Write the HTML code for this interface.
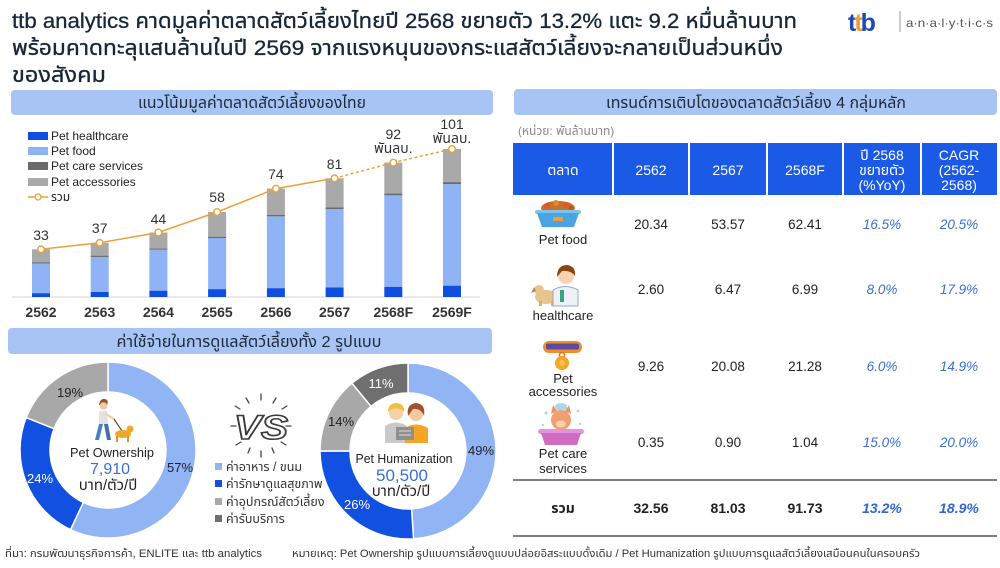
<!DOCTYPE html>
<html><head><meta charset="utf-8"><style>
html,body{margin:0;padding:0;background:#fff;width:1000px;height:568px;overflow:hidden}
svg{display:block}
</style></head><body>
<svg width="1000" height="568" viewBox="0 0 1000 568" xmlns="http://www.w3.org/2000/svg" font-family="'Liberation Sans','Noto Sans Thai','Noto Sans Thai UI','Loma','Garuda','Waree','Kinnari','Sarabun','DejaVu Sans',sans-serif">
<rect width="1000" height="568" fill="#fff"/>

<!-- Title -->
<g fill="#172638" font-size="21" stroke="#172638" stroke-width="0.3">
<text x="12" y="28" textLength="785" lengthAdjust="spacingAndGlyphs">ttb analytics คาดมูลค่าตลาดสัตว์เลี้ยงไทยปี 2568 ขยายตัว 13.2% แตะ 9.2 หมื่นล้านบาท</text>
<text x="12" y="55" textLength="771" lengthAdjust="spacingAndGlyphs">พร้อมคาดทะลุแสนล้านในปี 2569 จากแรงหนุนของกระแสสัตว์เลี้ยงจะกลายเป็นส่วนหนึ่ง</text>
<text x="12" y="82" textLength="94" lengthAdjust="spacingAndGlyphs">ของสังคม</text>
</g>

<!-- Logo -->
<text x="848" y="31" font-size="25" font-weight="bold" letter-spacing="-2"><tspan fill="#1b49b8">t</tspan><tspan fill="#f29a2e">t</tspan><tspan fill="#1b49b8">b</tspan></text>
<line x1="900" y1="11" x2="900" y2="32" stroke="#9a9a9a" stroke-width="1"/>
<text x="906" y="27" font-size="12" fill="#555" textLength="87" lengthAdjust="spacingAndGlyphs">a·n·a·l·y·t·i·c·s</text>

<!-- Section headers -->
<rect x="11" y="90" width="482" height="25" rx="4" fill="#a7c4f4"/>
<text x="252" y="108" font-size="16" fill="#1d2a3a" text-anchor="middle" textLength="228" lengthAdjust="spacingAndGlyphs">แนวโน้มมูลค่าตลาดสัตว์เลี้ยงของไทย</text>
<rect x="514" y="89" width="483" height="26" rx="4" fill="#a7c4f4"/>
<text x="756" y="108" font-size="16" fill="#1d2a3a" text-anchor="middle" textLength="300" lengthAdjust="spacingAndGlyphs">เทรนด์การเติบโตของตลาดสัตว์เลี้ยง 4 กลุ่มหลัก</text>
<rect x="8" y="328" width="484" height="26" rx="4" fill="#a7c4f4"/>
<text x="249" y="347" font-size="16" fill="#1d2a3a" text-anchor="middle" textLength="265" lengthAdjust="spacingAndGlyphs">ค่าใช้จ่ายในการดูแลสัตว์เลี้ยงทั้ง 2 รูปแบบ</text>

<!-- Bar chart legend -->
<g font-size="12" fill="#222">
<rect x="28" y="132" width="20" height="8" fill="#0f4fe0"/><text x="51" y="140">Pet healthcare</text>
<rect x="28" y="147" width="20" height="8" fill="#8fb3f4"/><text x="51" y="155">Pet food</text>
<rect x="28" y="162" width="20" height="8" fill="#6b6b6b"/><text x="51" y="170">Pet care services</text>
<rect x="28" y="178" width="20" height="8" fill="#a9a9a9"/><text x="51" y="186">Pet accessories</text>
<line x1="28" y1="197" x2="48" y2="197" stroke="#e9a23b" stroke-width="1.5"/><circle cx="38" cy="197" r="3" fill="#fff" stroke="#e9a23b" stroke-width="1.3"/><text x="51" y="201">รวม</text>
</g>

<!-- Axis -->
<line x1="12" y1="297" x2="480" y2="297" stroke="#d6d6d6" stroke-width="1"/>

<!-- Bars -->
<g>
<rect x="32" y="249.3" width="18" height="13.6" fill="#a9a9a9"/><rect x="32" y="262.4" width="18" height="1.2" fill="#6b6b6b"/><rect x="32" y="263.4" width="18" height="29.8" fill="#8fb3f4"/><rect x="32" y="293.2" width="18" height="3.8" fill="#0f4fe0"/>
<rect x="90.7" y="242.8" width="18" height="13.5" fill="#a9a9a9"/><rect x="90.7" y="255.8" width="18" height="1.2" fill="#6b6b6b"/><rect x="90.7" y="256.9" width="18" height="35.2" fill="#8fb3f4"/><rect x="90.7" y="292" width="18" height="5" fill="#0f4fe0"/>
<rect x="149.4" y="232.5" width="18" height="16.4" fill="#a9a9a9"/><rect x="149.4" y="248.6" width="18" height="1.2" fill="#6b6b6b"/><rect x="149.4" y="249.7" width="18" height="41" fill="#8fb3f4"/><rect x="149.4" y="290.7" width="18" height="6.3" fill="#0f4fe0"/>
<rect x="208.1" y="212" width="18" height="25.1" fill="#a9a9a9"/><rect x="208.1" y="236.9" width="18" height="1.3" fill="#6b6b6b"/><rect x="208.1" y="238" width="18" height="51.3" fill="#8fb3f4"/><rect x="208.1" y="289.2" width="18" height="7.8" fill="#0f4fe0"/>
<rect x="266.9" y="188.6" width="18" height="26.7" fill="#a9a9a9"/><rect x="266.9" y="215" width="18" height="1.4" fill="#6b6b6b"/><rect x="266.9" y="216.4" width="18" height="71.8" fill="#8fb3f4"/><rect x="266.9" y="288.2" width="18" height="8.8" fill="#0f4fe0"/>
<rect x="325.6" y="178.3" width="18" height="29.4" fill="#a9a9a9"/><rect x="325.6" y="207.5" width="18" height="1.6" fill="#6b6b6b"/><rect x="325.6" y="209" width="18" height="78.5" fill="#8fb3f4"/><rect x="325.6" y="287.5" width="18" height="9.5" fill="#0f4fe0"/>
<rect x="384.3" y="162.6" width="18" height="31.2" fill="#a9a9a9"/><rect x="384.3" y="193.6" width="18" height="1.8" fill="#6b6b6b"/><rect x="384.3" y="195.3" width="18" height="91.4" fill="#8fb3f4"/><rect x="384.3" y="286.8" width="18" height="10.2" fill="#0f4fe0"/>
<rect x="443" y="149" width="18" height="33.3" fill="#a9a9a9"/><rect x="443" y="182.2" width="18" height="2" fill="#6b6b6b"/><rect x="443" y="184.1" width="18" height="101.6" fill="#8fb3f4"/><rect x="443" y="285.7" width="18" height="11.3" fill="#0f4fe0"/>
</g>

<!-- Total line -->
<polyline points="41,249.3 99.7,242.8 158.4,232.5 217.1,212 275.9,188.6 334.6,178.3" fill="none" stroke="#e9a23b" stroke-width="1.5"/>
<polyline points="334.6,178.3 393.3,162.6 452,149" fill="none" stroke="#e9a23b" stroke-width="1.5" stroke-dasharray="3,2.5"/>
<g fill="#fff" stroke="#e9a23b" stroke-width="1.4">
<circle cx="41" cy="249.3" r="3.3"/><circle cx="99.7" cy="242.8" r="3.3"/><circle cx="158.4" cy="232.5" r="3.3"/><circle cx="217.1" cy="212" r="3.3"/><circle cx="275.9" cy="188.6" r="3.3"/><circle cx="334.6" cy="178.3" r="3.3"/><circle cx="393.3" cy="162.6" r="3.3"/><circle cx="452" cy="149" r="3.3"/>
</g>
<g font-size="14" fill="#333" text-anchor="middle">
<text x="41" y="240">33</text><text x="99.7" y="233">37</text><text x="158.4" y="224">44</text><text x="217.1" y="202">58</text><text x="275.9" y="179">74</text><text x="334.6" y="169">81</text>
<text x="393.3" y="139">92</text><text x="393.3" y="153">พันลบ.</text>
<text x="452" y="129">101</text><text x="452" y="143">พันลบ.</text>
</g>
<g font-size="14" font-weight="bold" fill="#333" text-anchor="middle">
<text x="41" y="317">2562</text><text x="99.7" y="317">2563</text><text x="158.4" y="317">2564</text><text x="217.1" y="317">2565</text><text x="275.9" y="317">2566</text><text x="334.6" y="317">2567</text><text x="393.3" y="317">2568F</text><text x="452" y="317">2569F</text>
</g>

<!-- Table -->
<text x="518" y="135" font-size="12" fill="#8a8a8a">(หน่วย: พันล้านบาท)</text>
<rect x="513" y="143" width="484" height="52" fill="#1b5ae6"/>
<g stroke="#fff" stroke-width="2">
<line x1="613" y1="143" x2="613" y2="195"/><line x1="689" y1="143" x2="689" y2="195"/><line x1="767" y1="143" x2="767" y2="195"/><line x1="843" y1="143" x2="843" y2="195"/><line x1="921" y1="143" x2="921" y2="195"/>
</g>
<g font-size="14" fill="#fff" text-anchor="middle">
<text x="563" y="175">ตลาด</text><text x="651" y="175">2562</text><text x="728" y="175">2567</text><text x="805" y="175">2568F</text>
<text x="882" y="160">ปี 2568</text><text x="882" y="175">ขยายตัว</text><text x="882" y="190">(%YoY)</text>
<text x="959" y="160">CAGR</text><text x="959" y="175">(2562-</text><text x="959" y="190">2568)</text>
</g>

<!-- Row icons -->
<ellipse cx="558" cy="208" rx="17" ry="7" fill="#c8702a"/>
<circle cx="547" cy="206" r="3" fill="#e0572a"/><circle cx="556" cy="203" r="3" fill="#d9892f"/><circle cx="566" cy="205" r="3" fill="#e0572a"/><circle cx="571" cy="208" r="2.5" fill="#b85a20"/>
<rect x="535" y="210" width="46" height="4" rx="2" fill="#7cc4f0"/>
<path d="M537,213 L579,213 L574,227 L542,227 Z" fill="#4aa3e3"/>
<rect x="553" y="217" width="10" height="4" fill="#f0a030"/>
<ellipse cx="546" cy="297" rx="11" ry="7" fill="#e8c48f"/>
<circle cx="539" cy="290" r="5" fill="#e8c48f"/>
<path d="M534,287 l-3,6 l5,-2 z" fill="#b88a55"/>
<rect x="539" y="301" width="3" height="5" fill="#d9b07a"/><rect x="551" y="301" width="3" height="5" fill="#d9b07a"/>
<path d="M553,306 L553,290 Q565,283 578,290 L578,306 Z" fill="#eef2f7" stroke="#9aa8b8" stroke-width="1"/>
<circle cx="566" cy="276" r="8" fill="#f7d3b0"/>
<path d="M557,277 Q557,265 567,265 Q576,266 575,276 Q571,270 562,271 Z" fill="#8b4513"/>
<rect x="560" y="290" width="4" height="12" fill="#3aa37a"/>
<rect x="543" y="341" width="39" height="12" rx="6" fill="#f28c28"/>
<rect x="546" y="343.5" width="33" height="6" rx="2" fill="#5a4aa0"/>
<circle cx="562" cy="355" r="2.5" fill="none" stroke="#d07020" stroke-width="1.5"/>
<circle cx="562" cy="363" r="7" fill="#f5a623"/>
<circle cx="562" cy="363" r="3" fill="#f8c060"/>
<ellipse cx="561" cy="407" rx="6" ry="4" fill="#a8d8f0"/>
<circle cx="546" cy="413" r="1.5" fill="#a8d8f0"/><circle cx="578" cy="411" r="1.5" fill="#a8d8f0"/><circle cx="543" cy="425" r="1.2" fill="#a8d8f0"/><circle cx="580" cy="424" r="1.2" fill="#a8d8f0"/>
<path d="M551,414 L553,405 L557,411 Z M571,414 L569,405 L565,411 Z" fill="#ec9460"/>
<circle cx="561" cy="420" r="10" fill="#f0a070"/>
<ellipse cx="561" cy="424" rx="5" ry="3.5" fill="#f8d0b0"/>
<rect x="538" y="429" width="46" height="5" rx="2.5" fill="#e494dc"/>
<path d="M541,433 L581,433 L577,445 L545,445 Z" fill="#cf6cc2"/>

<!-- Row labels -->
<g font-size="13" fill="#222" text-anchor="middle">
<text x="563" y="244">Pet food</text>
<text x="563" y="320">healthcare</text>
<text x="563" y="383">Pet</text><text x="563" y="396">accessories</text>
<text x="563" y="458">Pet care</text><text x="563" y="473">services</text>
</g>
<g font-size="13.5" fill="#222" text-anchor="middle">
<text x="651" y="229">20.34</text><text x="728" y="229">53.57</text><text x="805" y="229">62.41</text>
<text x="651" y="294">2.60</text><text x="728" y="294">6.47</text><text x="805" y="294">6.99</text>
<text x="651" y="371">9.26</text><text x="728" y="371">20.08</text><text x="805" y="371">21.28</text>
<text x="651" y="447">0.35</text><text x="728" y="447">0.90</text><text x="805" y="447">1.04</text>
</g>
<g font-size="13.5" fill="#3a6fd6" font-style="italic" text-anchor="middle">
<text x="882" y="229">16.5%</text><text x="959" y="229">20.5%</text>
<text x="882" y="294">8.0%</text><text x="959" y="294">17.9%</text>
<text x="882" y="371">6.0%</text><text x="959" y="371">14.9%</text>
<text x="882" y="447">15.0%</text><text x="959" y="447">20.0%</text>
</g>
<line x1="513" y1="480" x2="997" y2="480" stroke="#555" stroke-width="1.5"/>
<line x1="513" y1="536" x2="997" y2="536" stroke="#555" stroke-width="1.5"/>
<g font-size="14" font-weight="bold" fill="#222" text-anchor="middle">
<text x="563" y="513">รวม</text><text x="651" y="513">32.56</text><text x="728" y="513">81.03</text><text x="805" y="513">91.73</text>
</g>
<g font-size="14" font-weight="bold" font-style="italic" fill="#2f66d4" text-anchor="middle">
<text x="882" y="513">13.2%</text><text x="959" y="513">18.9%</text>
</g>

<!-- Donut 1 -->
<g stroke="#fff" stroke-width="1.5">
<path d="M108,362 A88,88 0 1 1 70.53,529.62 L83.30,502.48 A58,58 0 1 0 108,392 Z" fill="#90b4f4"/>
<path d="M70.53,529.62 A88,88 0 0 1 26.18,417.61 L54.07,428.65 A58,58 0 0 0 83.30,502.48 Z" fill="#1150e0"/>
<path d="M26.18,417.61 A88,88 0 0 1 108,362 L108,392 A58,58 0 0 0 54.07,428.65 Z" fill="#a8a8a8"/>
</g>
<g font-size="13" text-anchor="middle">
<text x="180" y="472" fill="#222">57%</text>
<text x="40" y="483" fill="#fff">24%</text>
<text x="70" y="397" fill="#222">19%</text>
</g>
<path d="M99,405 Q100,398 105,399 Q109,400 107,405 Z" fill="#8a5a2b"/>
<circle cx="103.5" cy="406" r="3.8" fill="#f2c9a0"/>
<path d="M99,411 L107,411 L108,424 L99,424 Z" fill="#e2e2e2"/>
<line x1="106" y1="414" x2="114" y2="419" stroke="#f2c9a0" stroke-width="2"/>
<path d="M99,424 L103,424 L99,440 L95,440 Z" fill="#4a7fc1"/>
<path d="M104,424 L108,424 L111,440 L107,440 Z" fill="#3f70b0"/>
<path d="M114,419 L122,431" stroke="#7a4a20" stroke-width="1.2"/>
<ellipse cx="123" cy="434" rx="8" ry="4" fill="#f0a82a"/>
<circle cx="130" cy="429" r="3.5" fill="#f0a82a"/>
<rect x="116" y="436" width="2" height="6" fill="#e09a20"/><rect x="127" y="436" width="2" height="6" fill="#e09a20"/>
<text x="112" y="457" font-size="13" fill="#222" text-anchor="middle" textLength="84" lengthAdjust="spacingAndGlyphs">Pet Ownership</text>
<text x="110" y="474" font-size="16" fill="#3a6fd6" text-anchor="middle">7,910</text>
<text x="108" y="490" font-size="15" fill="#222" text-anchor="middle">บาท/ตัว/ปี</text>

<!-- VS -->
<g stroke="#444" stroke-width="1.3" stroke-linecap="round">
<line x1="246" y1="398" x2="249" y2="403"/><line x1="261" y1="394" x2="261" y2="400"/><line x1="276" y1="398" x2="273" y2="403"/><line x1="287" y1="406" x2="282" y2="409"/>
<line x1="235" y1="406" x2="240" y2="409"/><line x1="231" y1="426" x2="236" y2="426"/><line x1="291" y1="426" x2="286" y2="426"/>
<line x1="236" y1="445" x2="241" y2="442"/><line x1="286" y1="445" x2="281" y2="442"/><line x1="248" y1="453" x2="250" y2="448"/><line x1="261" y1="457" x2="261" y2="451"/><line x1="274" y1="453" x2="272" y2="448"/>
</g>
<text x="261" y="439" font-size="34" font-weight="bold" font-style="italic" fill="#fff" stroke="#3a3a3a" stroke-width="1.6" text-anchor="middle" textLength="54" lengthAdjust="spacingAndGlyphs">VS</text>
<g font-size="12.5" fill="#333">
<rect x="215" y="463" width="7" height="7" fill="#90b4f4"/><text x="226" y="471">ค่าอาหาร / ขนม</text>
<rect x="215" y="480" width="7" height="7" fill="#1150e0"/><text x="226" y="488">ค่ารักษาดูแลสุขภาพ</text>
<rect x="215" y="498" width="7" height="7" fill="#a8a8a8"/><text x="226" y="506">ค่าอุปกรณ์สัตว์เลี้ยง</text>
<rect x="215" y="515" width="7" height="7" fill="#6f6f6f"/><text x="226" y="523">ค่ารับบริการ</text>
</g>

<!-- Donut 2 -->
<g stroke="#fff" stroke-width="1.5">
<path d="M408,363 A88,88 0 0 1 413.53,538.83 L411.64,508.88 A58,58 0 0 0 408,393 Z" fill="#90b4f4"/>
<path d="M413.53,538.83 A88,88 0 0 1 320,451 L350,451 A58,58 0 0 0 411.64,508.88 Z" fill="#1150e0"/>
<path d="M320,451 A88,88 0 0 1 351.91,383.20 L371.03,406.31 A58,58 0 0 0 350,451 Z" fill="#a8a8a8"/>
<path d="M351.91,383.20 A88,88 0 0 1 408,363 L408,393 A58,58 0 0 0 371.03,406.31 Z" fill="#6f6f6f"/>
</g>
<g font-size="13" text-anchor="middle">
<text x="481" y="455" fill="#222">49%</text>
<text x="357" y="509" fill="#fff">26%</text>
<text x="341" y="426" fill="#222">14%</text>
<text x="381" y="388" fill="#fff">11%</text>
</g>
<path d="M385,443 L385,426 Q396,419 407,426 L407,443 Z" fill="#c9c9c9"/>
<circle cx="396" cy="413" r="7" fill="#f5d0a8"/>
<path d="M388,412 Q388,403 397,403 Q405,404 404,412 Q399,407 392,409 Z" fill="#f0c040"/>
<path d="M405,443 L405,428 Q416,421 428,428 L428,443 Z" fill="#f5a623"/>
<circle cx="416" cy="414" r="7" fill="#f5c9a0"/>
<path d="M408,416 Q406,404 416,403 Q426,404 424,416 Q421,408 413,409 Z" fill="#a0522d"/>
<rect x="396" y="427" width="18" height="13" fill="#8f8f8f"/>
<line x1="399" y1="431" x2="411" y2="431" stroke="#ddd" stroke-width="1"/><line x1="399" y1="435" x2="411" y2="435" stroke="#ddd" stroke-width="1"/>
<text x="404" y="463" font-size="13" fill="#222" text-anchor="middle" textLength="97" lengthAdjust="spacingAndGlyphs">Pet Humanization</text>
<text x="402" y="481" font-size="17" fill="#3a6fd6" text-anchor="middle">50,500</text>
<text x="401" y="496" font-size="15" fill="#222" text-anchor="middle">บาท/ตัว/ปี</text>

<!-- Footer -->
<text x="5" y="557" font-size="11" fill="#333" textLength="257" lengthAdjust="spacingAndGlyphs">ที่มา: กรมพัฒนาธุรกิจการค้า, ENLITE และ ttb analytics</text>
<text x="292" y="557" font-size="11" fill="#333" textLength="628" lengthAdjust="spacingAndGlyphs">หมายเหตุ: Pet Ownership รูปแบบการเลี้ยงดูแบบปล่อยอิสระแบบดั้งเดิม / Pet Humanization รูปแบบการดูแลสัตว์เลี้ยงเสมือนคนในครอบครัว</text>
</svg>
</body></html>
